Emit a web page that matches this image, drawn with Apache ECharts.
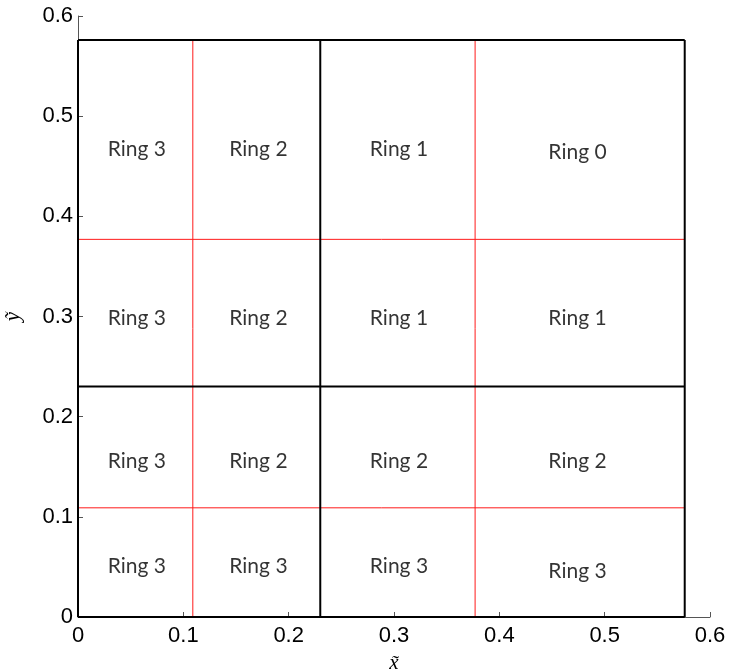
<!DOCTYPE html>
<html>
<head>
<meta charset="utf-8">
<script src="https://cdn.jsdelivr.net/npm/echarts@6/dist/echarts.min.js"></script>
<style>
  html, body { margin: 0; padding: 0; background: #fff; }
  #chart { width: 730px; height: 671px; }
</style>
</head>
<body>
<div id="chart"></div>
<script>
// Axis ticks (same on both axes)
const tickValues = [0, 0.1, 0.2, 0.3, 0.4, 0.5, 0.6];

// Outer extent of the partitioned square
const domainMax = 0.576;
// Coarse partition (black) and fine partition (red) positions, used for x and y
const coarseEdges = [0.23];
const fineEdges = [0.109, 0.377];

// Ring index per cell, rows from top to bottom, columns left to right
const ringRows = [
  [3, 2, 1, 0],
  [3, 2, 1, 1],
  [3, 2, 2, 2],
  [3, 3, 3, 3]
];
// Label anchor positions
const labelX = [0.0558, 0.1713, 0.3047, 0.4742];
const labelY = [
  [0.4665, 0.4665, 0.4665, 0.4637],
  [0.298, 0.298, 0.298, 0.298],
  [0.1554, 0.1554, 0.1554, 0.1554],
  [0.0506, 0.0506, 0.0506, 0.0456]
];

const series = [];

function segment(points, color, width, z) {
  series.push({
    type: 'line',
    data: points,
    showSymbol: false,
    symbol: 'none',
    silent: true,
    animation: false,
    z: z,
    lineStyle: { color: color, width: width }
  });
}

// fine partition lines (red) span the whole domain
fineEdges.forEach(v => {
  segment([[v, 0], [v, domainMax]], '#ff1a1a', 1, 2);
  segment([[0, v], [domainMax, v]], '#ff1a1a', 1, 2);
});
// coarse partition and outer box (black)
coarseEdges.concat([domainMax]).forEach(v => {
  segment([[v, 0], [v, domainMax]], '#000', 2, 3);
  segment([[0, v], [domainMax, v]], '#000', 2, 3);
});
segment([[0, 0], [0, domainMax]], '#000', 2, 3);
segment([[0, 0], [domainMax, 0]], '#000', 2, 3);

// ring labels
const labelData = [];
ringRows.forEach((row, r) => {
  row.forEach((ring, c) => {
    labelData.push({ value: [labelX[c], labelY[r][c]], name: 'Ring ' + ring });
  });
});
series.push({
  type: 'scatter',
  data: labelData,
  symbolSize: 1,
  itemStyle: { color: 'rgba(0,0,0,0)' },
  silent: true,
  animation: false,
  z: 5,
  label: {
    show: true,
    position: 'inside',
    formatter: p => p.name,
    color: '#000',
    fontFamily: 'Lato',
    fontSize: 21
  }
});

const axisCommon = {
  type: 'value',
  min: 0,
  max: 0.6,
  interval: 0.1,
  splitLine: { show: false },
  axisLine: { show: true, lineStyle: { color: '#555', width: 1 } },
  axisTick: { show: true, inside: true, length: 5, lineStyle: { color: '#555', width: 1 } },
  nameLocation: 'middle',
  nameTextStyle: {
    fontFamily: 'Liberation Serif',
    fontStyle: 'italic',
    fontSize: 21,
    color: '#000'
  }
};

const chart = echarts.init(document.getElementById('chart'), null, { renderer: 'canvas' });
chart.setOption({
  animation: false,
  backgroundColor: '#fff',
  grid: { left: 78, right: 20, top: 16, bottom: 54, containLabel: false, outerBoundsMode: 'none' },
  xAxis: Object.assign({}, axisCommon, {
    name: 'x\u0303',
    nameGap: 36,
    axisLabel: {
      margin: 8,
      color: '#000',
      fontFamily: 'Liberation Sans',
      fontSize: 22,
      formatter: v => tickValues.includes(Math.round(v * 10) / 10) ? String(Math.round(v * 10) / 10) : ''
    }
  }),
  yAxis: Object.assign({}, axisCommon, {
    name: 'y\u0303',
    nameGap: 54,
    axisLabel: {
      margin: 5,
      color: '#000',
      fontFamily: 'Liberation Sans',
      fontSize: 22,
      formatter: v => String(Math.round(v * 10) / 10)
    }
  }),
  series: series
});
</script>
</body>
</html>
